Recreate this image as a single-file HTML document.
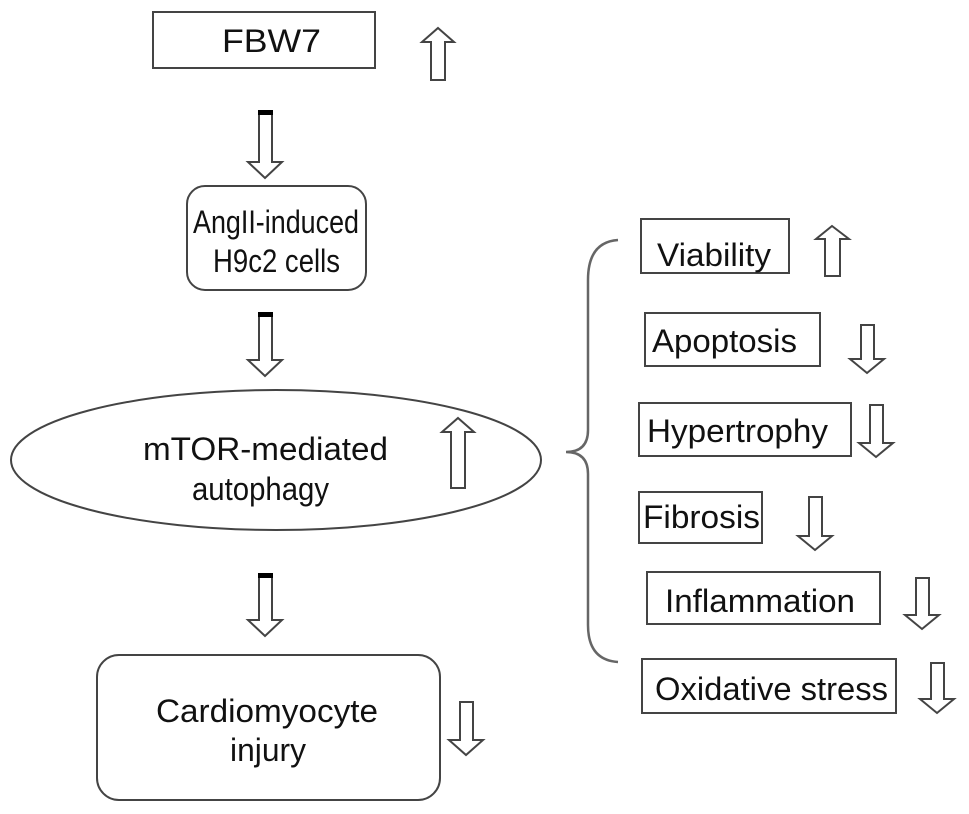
<!DOCTYPE html>
<html><head><meta charset="utf-8"><style>
html,body{margin:0;padding:0;background:#fff;width:969px;height:814px;overflow:hidden}
text{font-family:"Liberation Sans",sans-serif;font-size:32px;fill:#111}
</style></head><body>
<svg width="969" height="814" viewBox="0 0 969 814" xmlns="http://www.w3.org/2000/svg">
<g fill="none" stroke="#444" stroke-width="2">
<rect x="153" y="12" width="222" height="56"/>
<rect x="187" y="186" width="179" height="104" rx="18"/>
<ellipse cx="276" cy="460" rx="265" ry="70"/>
<rect x="97" y="655" width="343" height="145" rx="22"/>
<rect x="641" y="219" width="148" height="54"/>
<rect x="645" y="313" width="175" height="53"/>
<rect x="639" y="403" width="212" height="53"/>
<rect x="639" y="492" width="123" height="51"/>
<rect x="647" y="572" width="233" height="52"/>
<rect x="642" y="659" width="254" height="54"/>
<path d="M618,240 Q588,242 588,280 L588,430 Q588,452 566,452 Q588,452 588,474 L588,625 Q588,660 618,662" stroke="#666" stroke-width="2.5"/>
<path d="M438,28 L454,42 L445,42 L445,80 L431,80 L431,42 L422,42 Z"/>
<path d="M832,226 L849,239 L840,239 L840,276 L825,276 L825,239 L816,239 Z"/>
<path d="M458,418 L474,432 L465,432 L465,488 L451,488 L451,432 L442,432 Z"/>
<path d="M259,112 L272,112 L272,162 L282,162 L265,178 L248,162 L259,162 Z"/>
<path d="M259,314 L272,314 L272,360 L282,360 L265,376 L248,360 L259,360 Z"/>
<path d="M259,575 L272,575 L272,620 L282,620 L265,636 L248,620 L259,620 Z"/>
<path d="M460,702 L473,702 L473,740 L483,740 L466,755 L449,740 L460,740 Z"/>
<path d="M861,325 L874,325 L874,359 L884,359 L867,373 L850,359 L861,359 Z"/>
<path d="M870,405 L883,405 L883,443 L893,443 L876,457 L859,443 L870,443 Z"/>
<path d="M809,497 L822,497 L822,536 L832,536 L815,550 L798,536 L809,536 Z"/>
<path d="M916,578 L929,578 L929,615 L939,615 L922,629 L905,615 L916,615 Z"/>
<path d="M931,663 L944,663 L944,699 L954,699 L937,713 L920,699 L931,699 Z"/>
</g>
<g fill="#000">
<rect x="258" y="110" width="15" height="5"/>
<rect x="258" y="312" width="15" height="5"/>
<rect x="258" y="573" width="15" height="5"/>
</g>
<g>
<text x="222" y="52" textLength="99" lengthAdjust="spacingAndGlyphs">FBW7</text>
<text x="193" y="233" textLength="166" lengthAdjust="spacingAndGlyphs">AngII-induced</text>
<text x="213" y="272" textLength="127" lengthAdjust="spacingAndGlyphs">H9c2 cells</text>
<text x="143" y="460" textLength="245" lengthAdjust="spacingAndGlyphs">mTOR-mediated</text>
<text x="192" y="500" textLength="137" lengthAdjust="spacingAndGlyphs">autophagy</text>
<text x="156" y="722" textLength="222" lengthAdjust="spacingAndGlyphs">Cardiomyocyte</text>
<text x="230" y="761" textLength="76" lengthAdjust="spacingAndGlyphs">injury</text>
<text x="657" y="266" textLength="114" lengthAdjust="spacingAndGlyphs">Viability</text>
<text x="652" y="352" textLength="145" lengthAdjust="spacingAndGlyphs">Apoptosis</text>
<text x="647" y="442" textLength="181" lengthAdjust="spacingAndGlyphs">Hypertrophy</text>
<text x="643" y="528" textLength="117" lengthAdjust="spacingAndGlyphs">Fibrosis</text>
<text x="665" y="612" textLength="190" lengthAdjust="spacingAndGlyphs">Inflammation</text>
<text x="655" y="700" textLength="233" lengthAdjust="spacingAndGlyphs">Oxidative stress</text>
</g>
</svg>
</body></html>
